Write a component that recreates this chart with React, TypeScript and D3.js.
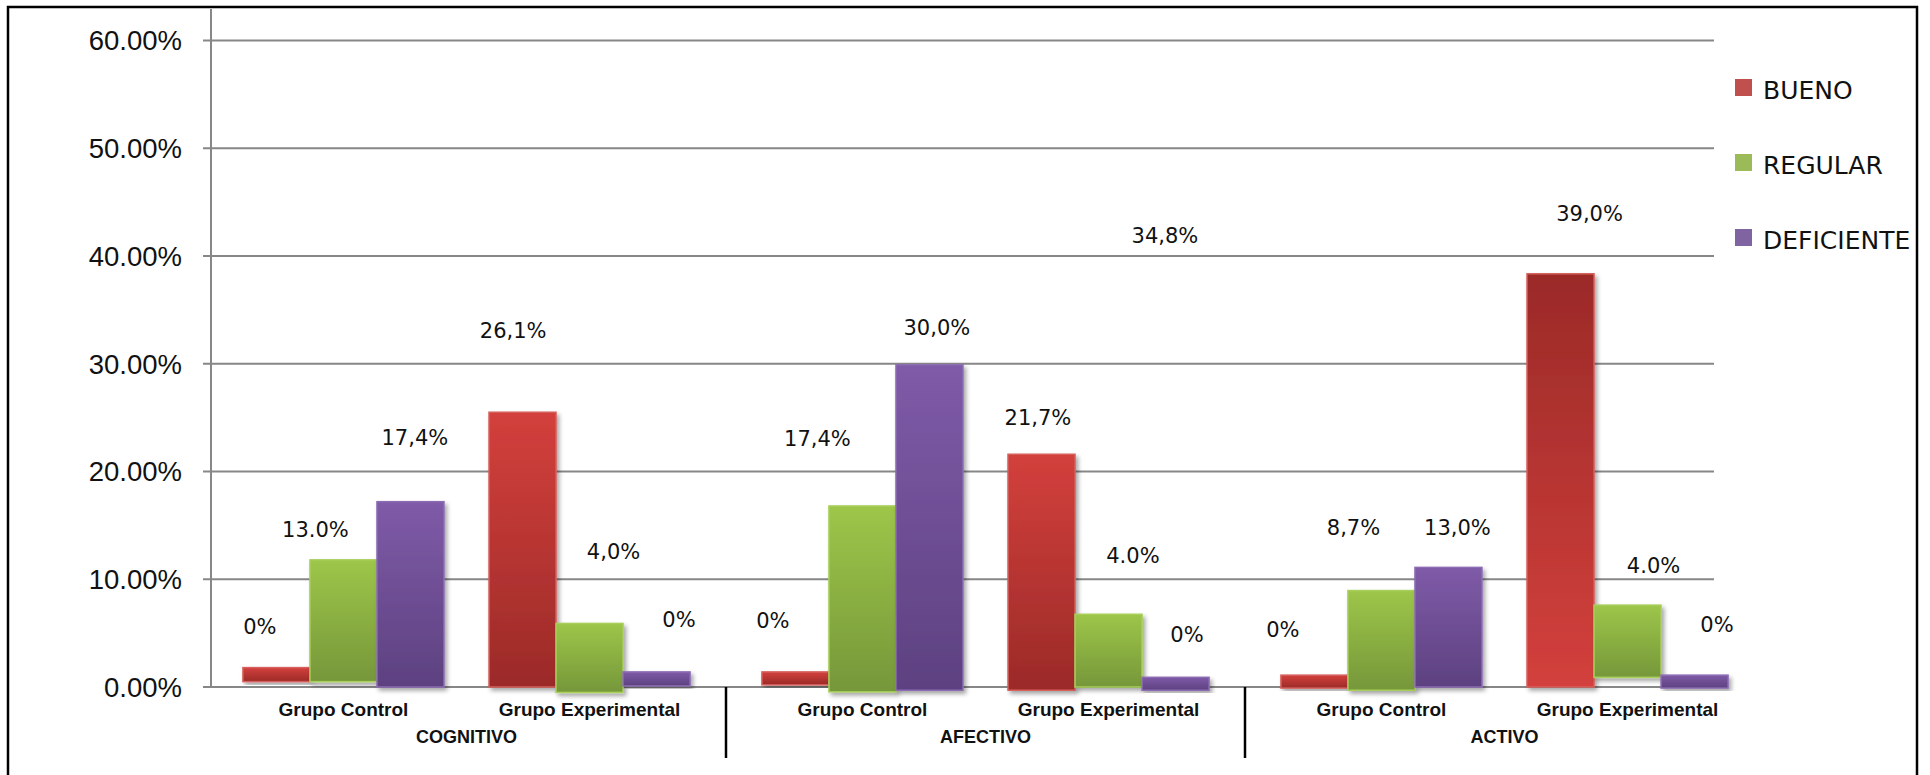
import React from "react";
import * as d3 from "d3";

// dimensiones y subgrupos
const groups = ["COGNITIVO", "AFECTIVO", "ACTIVO"];
const subgroups = ["Grupo Control", "Grupo Experimental"];
const seriesNames = ["BUENO", "REGULAR", "DEFICIENTE"];
const yTicks = [0, 10, 20, 30, 40, 50, 60];

// alturas de las barras (%), en orden: COG-GC, COG-GE, AFE-GC, AFE-GE, ACT-GC, ACT-GE
const buenoTop = [1.8, 25.5, 1.4, 21.6, 1.1, 38.35];
const regularTop = [11.8, 5.9, 16.8, 6.75, 8.95, 7.6];
const deficienteTop = [17.2, 1.4, 29.9, 0.9, 11.1, 1.1];
// base de cada barra (%), las barras del original no arrancan todas en cero
const buenoBase = [0.5, 0, 0.2, -0.3, -0.1, 0];
const regularBase = [0.5, -0.5, -0.45, 0, -0.3, 0.9];
const deficienteBase = [0, 0.1, -0.3, -0.3, 0, -0.1];

// etiquetas de datos tal como aparecen
const buenoLabels = ["0%", "26,1%", "0%", "21,7%", "0%", "39,0%"];
const regularLabels = ["13.0%", "4,0%", "17,4%", "4.0%", "8,7%", "4.0%"];
const deficienteLabels = ["17,4%", "0%", "30,0%", "0%", "13,0%", "0%"];
const extraLabel = "34,8%";

// donde estan colocadas las etiquetas (nivel en % y desplazamiento horizontal)
const buenoLabelLevel = [4.92, 32.39, 5.45, 24.33, 4.67, 43.22];
const regularLabelLevel = [13.9, 11.89, 22.38, 11.49, 14.12, 10.56];
const deficienteLabelLevel = [22.48, 5.6, 32.69, 4.21, 14.12, 5.14];
const buenoLabelDx = [-16.6, -9.3, -22.6, -3.6, -31.6, 29];
const regularLabelDx = [-28, 24, -45, 24.4, -28, 26];
const deficienteLabelDx = [4.4, 22.4, 7.4, 11.4, 9, 22.4];
const extraLabelLevel = 41.21;
const extraLabelDx = -10.6;

const legendColors = ["#c0504d", "#9bbb59", "#8064a2"];
const gradTop = ["#d3403c", "#9dc649", "#7f5ba8"];
const gradBottom = ["#9b2a28", "#76973a", "#5d4180"];
const strokeCols = ["#d6605c", "#a8cf5a", "#8c6cb3"];

export default function App() {
  const tops = [buenoTop, regularTop, deficienteTop];
  const bases = [buenoBase, regularBase, deficienteBase];
  const labels = [buenoLabels, regularLabels, deficienteLabels];
  const levels = [buenoLabelLevel, regularLabelLevel, deficienteLabelLevel];
  const dxs = [buenoLabelDx, regularLabelDx, deficienteLabelDx];

  const y = d3.scaleLinear().domain([0, 60]).range([687, 40.5]);
  const x0 = d3.scaleBand().domain(groups).range([207, 1764]).padding(0);
  const x1 = d3
    .scaleBand()
    .domain(subgroups)
    .range([0, x0.bandwidth()])
    .paddingInner(0.183)
    .paddingOuter(0.146);
  const x2 = d3.scaleBand().domain(seriesNames).range([0, x1.bandwidth()]);

  const axisX = 211;
  const gridEnd = 1714;
  const sansFont = "'Liberation Sans', Arial, sans-serif";
  const labelFont = "'DejaVu Sans', sans-serif";

  const bars = [];
  const dataLabels = [];
  groups.forEach((g, gi) => {
    subgroups.forEach((sg, si) => {
      const i = gi * 2 + si;
      seriesNames.forEach((s, k) => {
        const bx = x0(g) + x1(sg) + x2(s);
        const yt = y(tops[k][i]);
        const yb = y(bases[k][i]);
        // la barra roja del GE activo tiene el degradado invertido
        const rev = k === 0 && i === 5;
        bars.push(
          <rect
            key={`b-${i}-${k}`}
            x={bx}
            y={yt}
            width={x2.bandwidth()}
            height={yb - yt}
            fill={`url(#grad${k}${rev ? "r" : ""})`}
            stroke={strokeCols[k]}
            strokeWidth={1.5}
            filter="url(#shadow)"
          />
        );
        dataLabels.push(
          <text
            key={`l-${i}-${k}`}
            x={bx + x2.bandwidth() / 2 + dxs[k][i]}
            y={y(levels[k][i])}
            textAnchor="middle"
            fontFamily={labelFont}
            fontSize={21}
            fill="#111"
          >
            {labels[k][i]}
          </text>
        );
      });
    });
  });

  const extraX =
    x0("AFECTIVO") + x1("Grupo Experimental") + x2("DEFICIENTE") + x2.bandwidth() / 2 + extraLabelDx;

  return (
    <svg
      width={1930}
      height={775}
      style={{ position: "absolute", left: 0, top: 0, display: "block", background: "#fff" }}
    >
      <defs>
        {gradTop.map((c, k) => (
          <linearGradient key={`g${k}`} id={`grad${k}`} x1="0" y1="0" x2="0" y2="1">
            <stop offset="0%" stopColor={c} />
            <stop offset="100%" stopColor={gradBottom[k]} />
          </linearGradient>
        ))}
        <linearGradient id="grad0r" x1="0" y1="0" x2="0" y2="1">
          <stop offset="0%" stopColor={gradBottom[0]} />
          <stop offset="100%" stopColor={gradTop[0]} />
        </linearGradient>
        <filter id="shadow" x="-20%" y="-20%" width="140%" height="140%">
          <feDropShadow dx="2.5" dy="3" stdDeviation="2" floodColor="#000" floodOpacity="0.35" />
        </filter>
      </defs>

      {/* marco */}
      <rect x={8} y={7} width={1909} height={800} fill="none" stroke="#000" strokeWidth={2.5} />

      {/* rejilla y marcas del eje */}
      {yTicks.map((t) => (
        <g key={t}>
          <line x1={203} x2={gridEnd} y1={y(t)} y2={y(t)} stroke="#878787" strokeWidth={2} />
          <text
            x={182}
            y={y(t)}
            dy="0.36em"
            textAnchor="end"
            fontFamily={sansFont}
            fontSize={27.5}
            fill="#111"
          >
            {t.toFixed(2)}%
          </text>
        </g>
      ))}
      <line x1={axisX} x2={axisX} y1={9} y2={y(0)} stroke="#878787" strokeWidth={2} />

      {bars}
      {dataLabels}
      <text
        x={extraX}
        y={y(extraLabelLevel)}
        textAnchor="middle"
        fontFamily={labelFont}
        fontSize={21}
        fill="#111"
      >
        {extraLabel}
      </text>

      {/* eje de categorias */}
      {groups.map((g, gi) => (
        <g key={g}>
          {subgroups.map((sg) => (
            <text
              key={sg}
              x={x0(g) + x1(sg) + x1.bandwidth() / 2}
              y={716}
              textAnchor="middle"
              fontFamily={sansFont}
              fontWeight="bold"
              fontSize={19}
              fill="#111"
            >
              {sg}
            </text>
          ))}
          <text
            x={x0(g) + x0.bandwidth() / 2}
            y={743}
            textAnchor="middle"
            fontFamily={sansFont}
            fontWeight="bold"
            fontSize={18}
            fill="#111"
          >
            {g}
          </text>
          {gi > 0 && (
            <line x1={x0(g)} x2={x0(g)} y1={y(0)} y2={758} stroke="#000" strokeWidth={2.5} />
          )}
        </g>
      ))}

      {/* leyenda */}
      {seriesNames.map((s, k) => (
        <g key={s} transform={`translate(1735, ${79 + k * 75})`}>
          <rect width={17} height={17} fill={legendColors[k]} />
          <text x={28} y={20} fontFamily={labelFont} fontSize={25} fill="#111">
            {s}
          </text>
        </g>
      ))}
    </svg>
  );
}
